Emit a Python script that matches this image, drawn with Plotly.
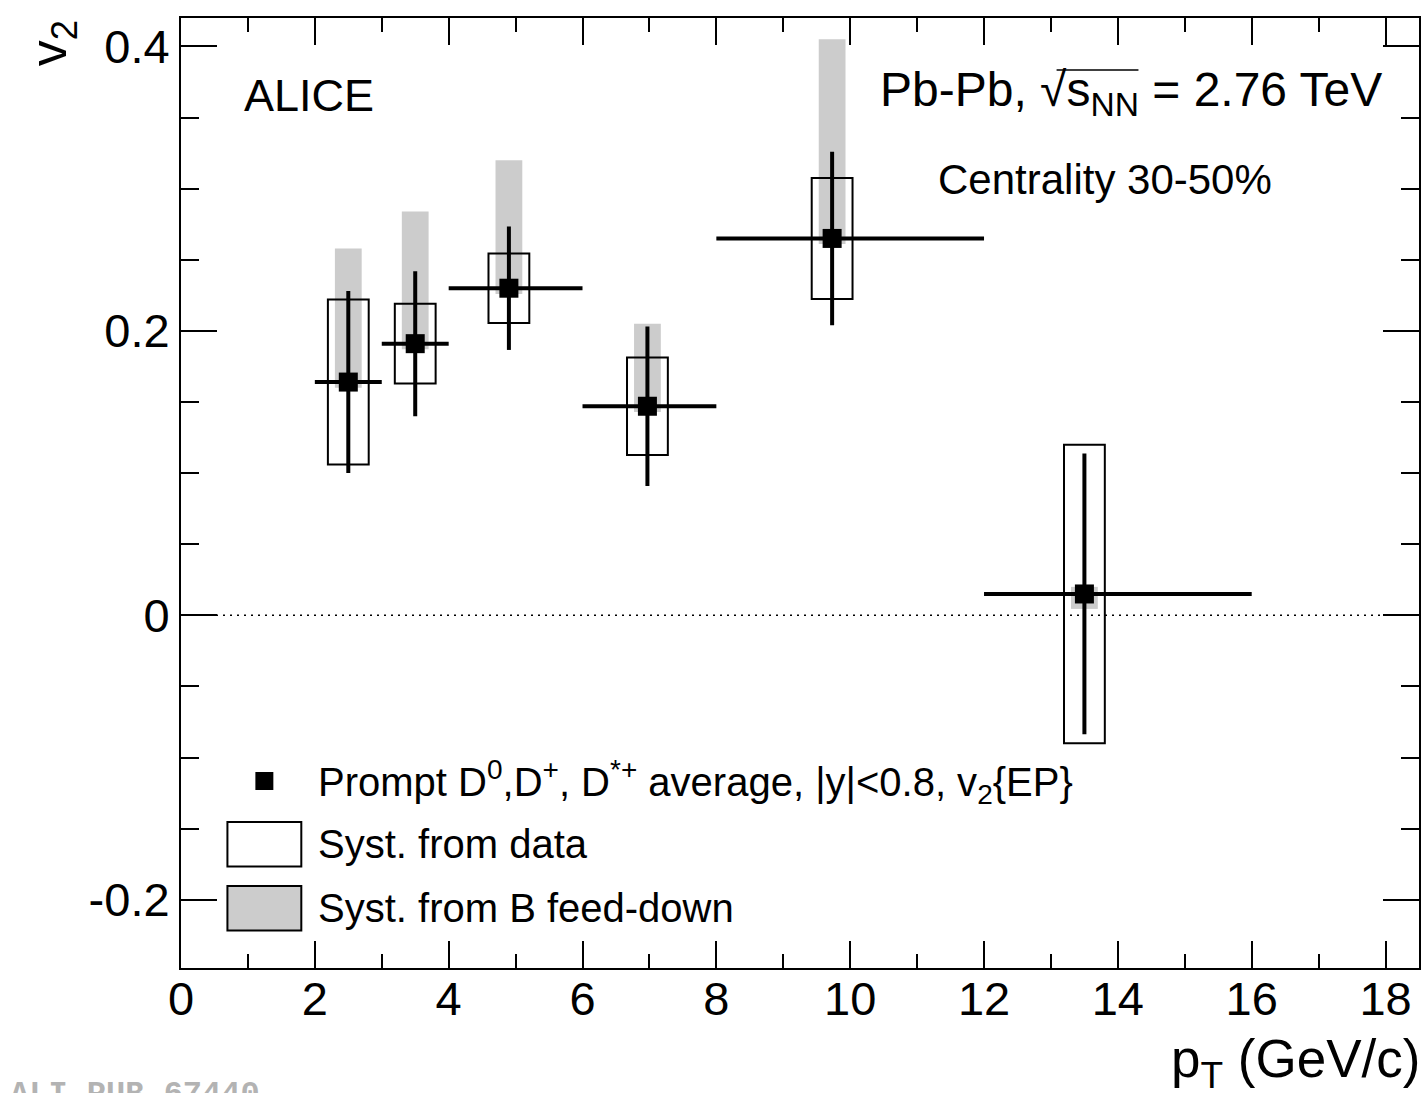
import numpy as np
import plotly.graph_objects as go

# ---- data: prompt D-meson v2 vs pT, Pb-Pb 2.76 TeV, 30-50% ----
pt_mean = [2.5, 3.5, 4.9, 6.97, 9.73, 13.5]
pt_low = [2, 3, 4, 6, 8, 12]
pt_high = [3, 4, 6, 8, 12, 16]
v2 = [0.164, 0.191, 0.230, 0.147, 0.265, 0.015]
stat_err = [0.064, 0.051, 0.0434, 0.056, 0.061, 0.0987]
syst_data = [0.058, 0.028, 0.0244, 0.0342, 0.0425, 0.105]
syst_fd_up = [0.094, 0.093, 0.090, 0.058, 0.140, 0.005]
syst_fd_down = [0.004, 0.004, 0.004, 0.004, 0.004, 0.0105]

x_tick_vals = [0, 2, 4, 6, 8, 10, 12, 14, 16, 18]
x_tick_text = ["0", "2", "4", "6", "8", "10", "12", "14", "16", "18"]
y_tick_vals = [-0.2, 0.0, 0.2, 0.4]
y_tick_text = ["-0.2", "0", "0.2", "0.4"]

# ---- canvas geometry (pixels) ----
W, H = 1423, 1093
ML, MR, MT, MB = 181, 2, 18, 125
PW, PH = W - ML - MR, H - MT - MB
FONT = "Liberation Sans, Arial, Helvetica, sans-serif"


def px(xp):
    return (xp - ML) / PW


def py(yp):
    return (H - MB - yp) / PH


pt_mean_a = np.array(pt_mean)
v2_a = np.array(v2)
err_x_plus = np.array(pt_high) - pt_mean_a
err_x_minus = pt_mean_a - np.array(pt_low)
fd_base = v2_a - np.array(syst_fd_down)
fd_len = np.array(syst_fd_up) + np.array(syst_fd_down)
sd_base = v2_a - np.array(syst_data)
sd_len = 2 * np.array(syst_data)

fig = go.Figure()

# B feed-down systematic bands (grey)
fig.add_trace(go.Bar(
    x=pt_mean, y=fd_len, base=fd_base, width=0.40,
    marker=dict(color="#cccccc", line=dict(width=0)),
    hoverinfo="skip", showlegend=False,
))

# data systematic boxes (open)
fig.add_trace(go.Bar(
    x=pt_mean, y=sd_len, base=sd_base, width=0.61,
    marker=dict(color="rgba(0,0,0,0)", line=dict(width=2, color="black")),
    hoverinfo="skip", showlegend=False,
))

# points with statistical errors and bin widths
fig.add_trace(go.Scatter(
    x=pt_mean, y=v2, mode="markers",
    marker=dict(symbol="square", size=19, color="black", line=dict(width=0)),
    error_y=dict(type="data", array=stat_err, symmetric=True,
                 color="black", thickness=4, width=0),
    error_x=dict(type="data", array=list(err_x_plus), arrayminus=list(err_x_minus),
                 symmetric=False, color="black", thickness=4, width=0),
    hoverinfo="skip", showlegend=False,
))

shapes = [
    # dotted zero line
    dict(type="line", xref="paper", yref="y", x0=0, x1=1, y0=0, y1=0,
         line=dict(color="black", width=1.5, dash="2px,5px"), layer="below"),
    # legend symbols
    dict(type="rect", xref="paper", yref="paper",
         x0=px(255.5), x1=px(273.5), y0=py(790), y1=py(772),
         fillcolor="black", line=dict(width=0)),
    dict(type="rect", xref="paper", yref="paper",
         x0=px(227.5), x1=px(301.5), y0=py(866.5), y1=py(822),
         fillcolor="white", line=dict(width=2, color="black")),
    dict(type="rect", xref="paper", yref="paper",
         x0=px(227.5), x1=px(301.5), y0=py(930.5), y1=py(886),
         fillcolor="#cccccc", line=dict(width=2, color="black")),
    # overline of the square root
    dict(type="line", xref="paper", yref="paper",
         x0=px(1058), x1=px(1140), y0=py(70), y1=py(70),
         line=dict(color="black", width=1.5)),
]

annotations = [
    dict(text="ALICE", x=px(242), y=py(95), xanchor="left", yanchor="middle",
         font=dict(size=45)),
    dict(text="Pb-Pb, \u221As<sub>NN</sub> = 2.76 TeV", x=px(1386), y=py(93),
         xanchor="right", yanchor="middle", font=dict(size=48)),
    dict(text="Centrality 30-50%", x=px(937), y=py(180), xanchor="left",
         yanchor="middle", font=dict(size=42)),
    dict(text="Prompt D<sup>0</sup>,D<sup>+</sup>, D<sup>*+</sup> average, |y|&lt;0.8, "
              "v<sub>2</sub>{EP}",
         x=px(316), y=py(782), xanchor="left", yanchor="middle", font=dict(size=40)),
    dict(text="Syst. from data", x=px(316), y=py(844), xanchor="left",
         yanchor="middle", font=dict(size=40)),
    dict(text="Syst. from B feed-down", x=px(316), y=py(908), xanchor="left",
         yanchor="middle", font=dict(size=40)),
    # axis titles
    dict(text="v<sub>2</sub>", x=px(52), y=py(18), xanchor="center", yanchor="top",
         textangle=-90, font=dict(size=52)),
    dict(text="p<sub>T</sub> (GeV/c)", x=px(1424), y=py(1062), xanchor="right",
         yanchor="middle", font=dict(size=53)),
    # publication id
    dict(text="<b>ALI-PUB-67440</b>", x=px(8), y=py(1074), xanchor="left",
         yanchor="top", font=dict(size=32, color="#b3b3b3",
                                  family="Liberation Mono, Courier New, monospace")),
]
for a in annotations:
    a.update(xref="paper", yref="paper", showarrow=False)

axis_common = dict(
    showline=True, linewidth=2, linecolor="black", mirror="allticks",
    ticks="inside", tickwidth=2, tickcolor="black", showgrid=False,
    zeroline=False, tickfont=dict(size=47, color="black"), tickmode="array",
)

fig.update_layout(
    width=W, height=H,
    margin=dict(l=ML, r=MR, t=MT, b=MB, pad=0),
    paper_bgcolor="white", plot_bgcolor="white",
    font=dict(family=FONT, color="black"),
    barmode="overlay",
    showlegend=False,
    shapes=shapes,
    annotations=annotations,
    xaxis=dict(
        range=[0, 18.5], tickvals=x_tick_vals, ticktext=x_tick_text,
        ticklen=27, ticklabelstandoff=-11,
        minor=dict(tickmode="array", tickvals=list(np.arange(1, 18.5, 2)),
                   ticks="inside", ticklen=14, tickwidth=2, tickcolor="black"),
        **axis_common,
    ),
    yaxis=dict(
        range=[-0.248, 0.42], tickvals=y_tick_vals, ticktext=y_tick_text,
        ticklen=36, ticklabelstandoff=0,
        minor=dict(tickmode="array",
                   tickvals=[round(v, 2) for v in np.arange(-0.2, 0.41, 0.05)],
                   ticks="inside", ticklen=18, tickwidth=2, tickcolor="black"),
        **axis_common,
    ),
)

fig.write_html("out.html")
